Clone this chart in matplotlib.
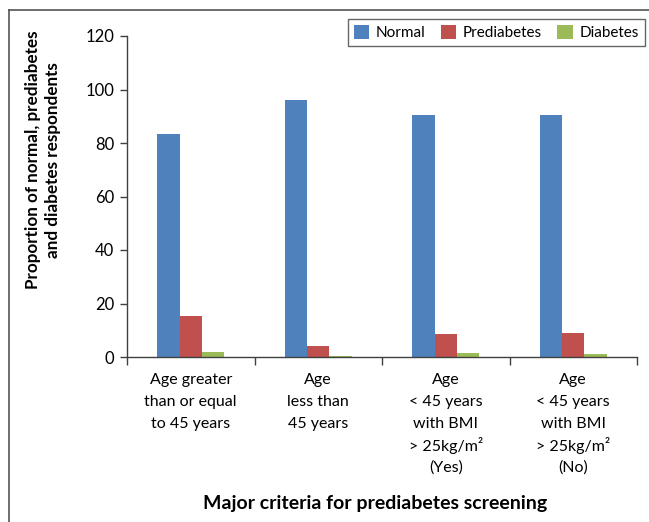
import matplotlib.pyplot as plt
import numpy as np
from matplotlib.lines import Line2D
from matplotlib.transforms import blended_transform_factory, offset_copy

plt.rcParams['font.family'] = ['Lato', 'DejaVu Sans']

categories = ['Age greater\nthan or equal\nto 45 years',
              'Age\nless than\n45 years',
              'Age\n< 45 years\nwith BMI\n> 25kg/m²\n(Yes)',
              'Age\n< 45 years\nwith BMI\n> 25kg/m²\n(No)']
series_names = ['Normal', 'Prediabetes', 'Diabetes']
normal = [83.3, 96.0, 90.5, 90.5]
prediabetes = [15.3, 4.1, 8.6, 9.0]
diabetes = [1.9, 0.4, 1.5, 1.1]
colors = ['#4F81BD', '#C0504D', '#9BBB59']

fig = plt.figure(figsize=(6.49, 5.22), dpi=100)
ax = fig.add_axes([127 / 649, 1 - 357 / 522, 510 / 649, 321 / 522])

x = np.arange(len(categories))
w = 0.176
for i, (vals, name) in enumerate(zip([normal, prediabetes, diabetes], series_names)):
    ax.bar(x + (i - 1) * w, vals, w, color=colors[i], label=name, zorder=2)

ax.set_xlim(-0.5, len(categories) - 0.5)
ax.set_ylim(0, 120)
ax.set_yticks(range(0, 121, 20))
ax.set_xticks(np.arange(-0.5, len(categories)))
ax.set_xticklabels([])
ax.tick_params(axis='x', length=6, width=1, color='#404040', direction='out')
ax.tick_params(axis='y', length=5, width=1, color='#404040', labelsize=12, pad=4)

# category labels, one line at a time so spacing stays even
trans = blended_transform_factory(ax.transData, ax.transAxes)
for xi, lab in zip(x, categories):
    for j, line in enumerate(lab.split('\n')):
        t = offset_copy(trans, fig=fig, x=0, y=-(23 + 22 * j) * 72 / 100, units='points')
        ax.text(xi, 0, line, transform=t, ha='center', va='center', fontsize=11.5)

for s in ['top', 'right']:
    ax.spines[s].set_visible(False)
for s in ['left', 'bottom']:
    ax.spines[s].set_color('#404040')
    ax.spines[s].set_linewidth(1)

fig.text(43 / 649, 1 - 160 / 522, 'Proportion of normal, prediabetes\nand diabetes respondents',
         rotation=90, ha='center', va='center', fontsize=12.3, fontweight='bold',
         linespacing=1.25)
fig.text(375 / 649, 1 - 503 / 522, 'Major criteria for prediabetes screening',
         ha='center', va='center', fontsize=14, fontweight='bold')

leg = fig.legend(loc='upper right', bbox_to_anchor=(645 / 649, 1 - 19 / 522), ncol=3,
                 fontsize=11, frameon=True, fancybox=False, edgecolor='#404040',
                 handlelength=1.0, handleheight=1.0, handletextpad=0.45,
                 columnspacing=1.0, borderpad=0.4, borderaxespad=0)
leg.get_frame().set_linewidth(1)

# outer frame (left and top edges)
fig.add_artist(Line2D([9 / 649, 9 / 649], [0, 1 - 10 / 522], transform=fig.transFigure,
                      color='#555555', lw=1.2))
fig.add_artist(Line2D([9 / 649, 1], [1 - 10 / 522, 1 - 10 / 522], transform=fig.transFigure,
                      color='#555555', lw=1.2))

fig.savefig('out.png', dpi=100, facecolor='white')
